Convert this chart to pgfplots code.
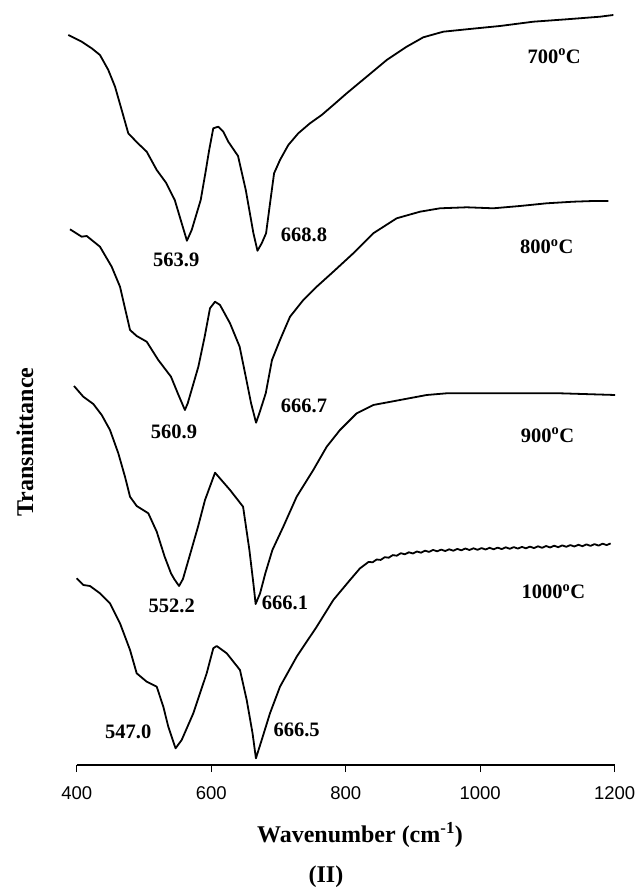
\documentclass[border=0pt]{standalone}
\usepackage{fontspec}
\setmainfont{Liberation Serif}
\newfontfamily\arialfont{Liberation Sans}
\usepackage{pgfplots}
\pgfplotsset{compat=1.18}

\newcommand{\annot}{\bfseries\fontsize{20.5}{22}\selectfont}
\newcommand{\axlab}{\bfseries\fontsize{24}{26}\selectfont}

\begin{document}
\begin{tikzpicture}
\begin{axis}[
  at={(0pt,0pt)}, anchor=south west,
  scale only axis, width=538pt, height=765pt,
  xmin=400, xmax=1200, ymin=0, ymax=765,
  clip=false,
  axis x line*=bottom, axis y line=none,
  axis line style={black, line width=1.2pt, -},
  xtick={400,600,800,1000,1200},
  xticklabels={400,600,800,1000,1200},
  tick align=outside, major tick length=7pt,
  tick style={black, line width=1.2pt},
  xticklabel style={font=\arialfont\fontsize{18.5}{20}\selectfont, yshift=-11pt},
  /pgf/number format/assume math mode=true,
]
% 700 C
\addplot[black, line width=1.8pt, line join=round] coordinates {
(387.5,730) (407.4,723.3) (422.3,716.7) (434.6,710) (447,695) (457,678.3)
(466.9,655) (476.7,631.7) (490.1,622.3) (504.1,613.3) (519,595) (532.8,582.3)
(545.8,565) (554.7,545) (563.9,524.3) (571,535) (584.4,565) (591.3,591.7)
(597,615) (603.1,636.7) (610.6,638.3) (618,633.3) (625.4,623.3) (639.9,609)
(651.4,575) (662.8,531.7) (668.8,514.3) (675.1,521.7) (681.6,531.7) (687.5,561.7)
(693.5,591.7) (702.3,605) (714.7,620) (729.5,631.7) (746.9,641.7) (764.3,650)
(781.6,660) (801.5,671.7) (831.2,688.3) (861,705) (890.7,718.3) (915.4,727.7)
(945.1,733.3) (979.9,735.7) (1029.4,739) (1079,743.3) (1128.6,745.7)
(1178.2,748.3) (1198,750)
};
% 800 C
\addplot[black, line width=1.8pt, line join=round] coordinates {
(390,535.7) (407.4,528.3) (414.9,529) (434.6,518.3) (452,498.3) (464.4,478.3)
(479.3,435) (489.2,429) (504.1,423.3) (521.3,405) (540.2,388.3) (550.3,371.7)
(560.9,355) (565.1,361.7) (580.9,398.3) (590.3,428.3) (598.2,456.7) (605.7,463.3)
(613.1,460) (628,441.7) (642.3,418.3) (651.4,388.3) (659.3,361.7) (666.7,342.3)
(671.6,351.7) (681.1,371.7) (690.4,405) (702.3,425) (717.2,448.3) (737,465)
(756.9,478.3) (781.6,493.3) (811.3,511.7) (841,531.7) (875.8,546.7) (910.5,553.3)
(940.2,556.7) (979.9,557.7) (1019.5,556.7) (1059.2,559) (1098.9,561.7)
(1138.4,563.3) (1168.2,564) (1190.5,564)
};
% 900 C
\addplot[black, line width=1.8pt, line join=round] coordinates {
(396,379) (409.8,368.3) (424.7,361) (437.2,350) (449.5,335) (461.9,311.7)
(471.8,288.3) (479.3,268.3) (489.2,259) (506.5,251.7) (519,233.3) (530.8,208.3)
(540.2,191.7) (545,186) (552.2,179) (558,186) (567.6,208.3) (580.4,238.3)
(590.8,265) (605.7,292.3) (628,275) (647.4,258.3) (656.8,215) (662.7,181.7)
(666.1,161) (672.7,171.7) (680.5,191.7) (691,215) (707.2,238.3) (727.1,268.3)
(751.8,295) (771.8,318.3) (791.5,335) (816.4,351.7) (841,360) (880.8,365)
(920.5,370) (950.2,371.7) (1029.4,371.7) (1118.7,371.7) (1200.5,370)
};
% 1000 C
\addplot[black, line width=1.8pt, line join=round] coordinates {
(400,186.7) (409.8,180) (419.8,179) (434.6,171.7) (449.5,161.7) (464.4,141.7)
(479.3,115) (489.2,91.7) (504.1,83.3) (519,78.3) (528.8,58.3) (536.2,38.3)
(547,16.7) (556.1,25) (573.4,51.7) (593.3,91.7) (603.1,116.7) (608.2,119)
(623.1,111.7) (642.8,95) (652.8,65) (661.5,31.7) (666.5,6.7) (675.1,25)
(687.4,51.7) (702.3,78.3) (727.1,108.3) (756.9,138.3) (781.6,165) (806.4,185)
(821.3,196.7) (834,203.1) (840,202.7) (846,205.5) (852,205.1) (858,207.8)
(864,207.3) (870,209.9) (876,209.3) (882,211.8) (888,210.7) (894,212.7)
(900,211.5) (906,213.5) (912,212.3) (918,214.3) (924,213.1) (930,215.1)
(936,213.7) (942,215.4) (948,214) (954,215.7) (960,214.3) (966,216.1)
(972,214.7) (978,216.5) (984,215) (990,216.7) (996,215.2) (1002,216.9)
(1008,215.5) (1014,217.2) (1020,215.7) (1026,217.4) (1032,215.9) (1038,217.7)
(1044,216.2) (1050,217.9) (1056,216.4) (1062,218.1) (1068,216.7) (1074,218.4)
(1080,216.9) (1086,218.7) (1092,217.2) (1098,219) (1104,217.5) (1110,219.3)
(1116,217.8) (1122,219.6) (1128,218.2) (1134,219.9) (1140,218.5) (1146,220.2)
(1152,218.8) (1158,220.6) (1164,219.1) (1170,220.9) (1176,219.4) (1182,221.3)
(1188,219.9) (1194,221.6)
};
% peak positions and temperatures
\node[font=\annot] at (axis cs:548,505) {563.9};
\node[font=\annot] at (axis cs:738,530) {668.8};
\node[font=\annot] at (axis cs:1110,709) {700\textsuperscript{o}C};
\node[font=\annot] at (axis cs:544.7,333.3) {560.9};
\node[font=\annot] at (axis cs:738,359) {666.7};
\node[font=\annot] at (axis cs:1099,518.3) {800\textsuperscript{o}C};
\node[font=\annot] at (axis cs:541.3,159) {552.2};
\node[font=\annot] at (axis cs:709.7,161.7) {666.1};
\node[font=\annot] at (axis cs:1100,330) {900\textsuperscript{o}C};
\node[font=\annot] at (axis cs:476.7,32.7) {547.0};
\node[font=\annot] at (axis cs:727.1,35) {666.5};
\node[font=\annot] at (axis cs:1108.8,173.3) {1000\textsuperscript{o}C};
\end{axis}
\node[font=\axlab, rotate=90] at (-51.7pt,323pt) {Transmittance};
\node[font=\axlab] at (283.3pt,-70pt) {Wavenumber (cm\textsuperscript{-1})};
\node[font=\axlab] at (249.3pt,-112pt) {(II)};
\pgfresetboundingbox
\path[use as bounding box] (-76.7pt,-124pt) rectangle (561.3pt,765pt);
\end{tikzpicture}
\end{document}
